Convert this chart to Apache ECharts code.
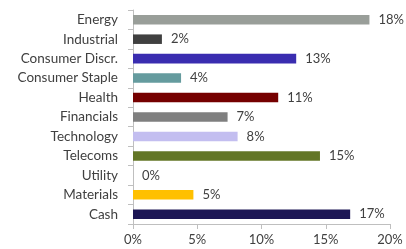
<!DOCTYPE html>
<html><head><meta charset="utf-8">
<script src="https://cdn.jsdelivr.net/npm/echarts@6/dist/echarts.min.js"></script>
<style>html,body{margin:0;padding:0;background:#fff}#c{width:406px;height:249px}</style>
</head><body><div id="c"></div>
<script>
var categories = ["Energy","Industrial","Consumer Discr.","Consumer Staple","Health","Financials","Technology","Telecoms","Utility","Materials","Cash"];
var values = [18.4, 2.25, 12.7, 3.74, 11.3, 7.36, 8.14, 14.55, 0, 4.7, 16.9];
var valueLabels = ["18%","2%","13%","4%","11%","7%","8%","15%","0%","5%","17%"];
var colors = ["#999E99","#404040","#3A2DB0","#659B9E","#750000","#7F7F7F","#C3BEF0","#637626","#FFFFFF","#FFC000","#1C1654"];
var xTicks = [0, 5, 10, 15, 20];

var chart = echarts.init(document.getElementById('c'), null, {renderer:'canvas'});
var font = "Lato, 'Open Sans', sans-serif";
chart.setOption({
  animation: false,
  grid: {left: 133, right: 16, top: 10, bottom: 25, containLabel: false},
  xAxis: {
    type: 'value', min: xTicks[0], max: xTicks[xTicks.length-1], interval: 5,
    axisLine: {show: true, lineStyle: {color: '#BFBFBF'}},
    axisTick: {show: true, length: 5, lineStyle: {color: '#BFBFBF'}},
    splitLine: {show: false},
    axisLabel: {color: '#404040', fontSize: 13, fontFamily: font, margin: 9, formatter: function(v){return v + '%';}}
  },
  yAxis: {
    type: 'category', data: categories, inverse: true,
    axisLine: {show: true, lineStyle: {color: '#BFBFBF'}},
    axisTick: {show: true, length: 5, lineStyle: {color: '#BFBFBF'}},
    axisLabel: {color: '#404040', fontSize: 13.5, fontFamily: font, margin: 15}
  },
  series: [{
    type: 'bar',
    barWidth: '49%',
    data: values.map(function(v, i){ return {value: v, itemStyle: {color: colors[i]}}; }),
    label: {
      show: true, position: 'right', distance: 9,
      color: '#404040', fontSize: 13, fontFamily: font,
      formatter: function(p){ return valueLabels[p.dataIndex]; }
    }
  }]
});
</script></body></html>
